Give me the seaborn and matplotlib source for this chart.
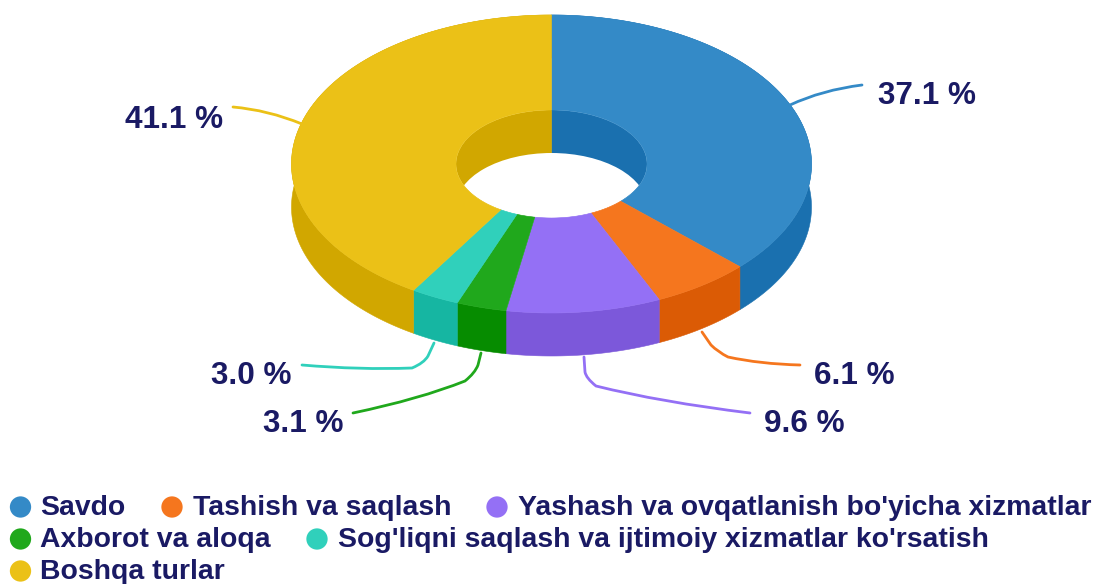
import numpy as np
import pandas as pd
import matplotlib
matplotlib.use('Agg')
import matplotlib.pyplot as plt
from matplotlib.patches import Ellipse, PathPatch
from matplotlib.path import Path
import seaborn as sns

# Data
categories = ['Savdo', 'Tashish va saqlash', "Yashash va ovqatlanish bo'yicha xizmatlar",
              'Axborot va aloqa', "Sog'liqni saqlash va ijtimoiy xizmatlar ko'rsatish", 'Boshqa turlar']
values = [37.1, 6.1, 9.6, 3.1, 3.0, 41.1]
top_colors = ['#348ac7', '#f5761e', '#9470f5', '#20a81c', '#30d0bb', '#ebc117']
side_colors = ['#1a70af', '#db5b05', '#7c58da', '#068c00', '#16b6a2', '#d1a700']

# Layout in pixels
cx, cy = 551.5, 164
rx, ry = 260, 149
hole_rx, hole_ry = 95.5, 54
depth = 43
label_pos = [(878, 96), (814, 376), (764, 424), (263, 424), (211, 376), (125, 120)]
leaders = [[(790, 105), (822, 90), (862, 85)],
           [(702, 332), (711, 345), (718, 352), (728, 357), (760, 364), (800, 365)],
           [(584, 357), (585, 372), (586, 378), (596, 386), (660, 402), (750, 413)],
           [(481, 353), (478, 365), (475, 373), (465, 381), (420, 399), (353, 413)],
           [(434, 343), (428, 356), (424, 363), (412, 368), (360, 370), (302, 365)],
           [(302, 124), (268, 110), (233, 107)]]
legend_dots = [(20.5, 507), (172, 507), (497, 507), (20.5, 539), (317, 539), (20.5, 571)]
legend_text = [(40, 508), (193, 508), (518, 508), (40, 540), (338, 540), (40, 572)]
text_color = '#1a1a64'

sns.set_theme(style='white')
plt.rcParams['font.family'] = ['Liberation Sans', 'DejaVu Sans']
palette = sns.color_palette(top_colors)

fig = plt.figure(figsize=(10.96, 5.84), dpi=100)
ax = fig.add_axes([0, 0, 1, 1])
ax.set_xlim(0, 1096)
ax.set_ylim(584, 0)
ax.axis('off')


def arc(a0, a1, a, b, dy=0):
    # angles clockwise from the top
    t = np.radians(np.linspace(a0, a1, 200))
    return cx + a * np.sin(t), cy - b * np.cos(t) + dy


edges = np.cumsum([0] + values) / sum(values) * 360

# outer walls
for i in range(len(values)):
    x1, y1 = arc(edges[i], edges[i + 1], rx, ry)
    x2, y2 = arc(edges[i], edges[i + 1], rx, ry, depth)
    ax.fill(np.r_[x1, x2[::-1]], np.r_[y1, y2[::-1]], color=side_colors[i], lw=0.4, zorder=1)

# inner wall seen through the hole
hole = Ellipse((cx, cy), 2 * hole_rx, 2 * hole_ry, fc='none', ec='none', transform=ax.transData)
ax.add_patch(hole)
for i in range(len(values)):
    x1, y1 = arc(edges[i], edges[i + 1], hole_rx, hole_ry)
    w = ax.fill(np.r_[cx, x1], np.r_[cy, y1], color=side_colors[i], lw=0.4, zorder=2)[0]
    w.set_clip_path(hole)
see_through = Ellipse((cx, cy + depth), 2 * hole_rx, 2 * hole_ry, fc='white', ec='none', zorder=3)
ax.add_patch(see_through)
see_through.set_clip_path(hole)

# top face
for i in range(len(values)):
    x1, y1 = arc(edges[i], edges[i + 1], rx, ry)
    x2, y2 = arc(edges[i], edges[i + 1], hole_rx, hole_ry)
    ax.fill(np.r_[x1, x2[::-1]], np.r_[y1, y2[::-1]], color=palette[i], lw=0.4, zorder=4)

# leader lines and labels
for i, pts in enumerate(leaders):
    if len(pts) == 3:
        codes = [Path.MOVETO, Path.CURVE3, Path.CURVE3]
    else:
        codes = [Path.MOVETO, Path.LINETO, Path.CURVE3, Path.CURVE3, Path.CURVE3, Path.CURVE3]
    ax.add_patch(PathPatch(Path(pts, codes), fc='none', ec=top_colors[i], lw=2, capstyle='round', zorder=5))
    ax.text(label_pos[i][0], label_pos[i][1], f'{values[i]} %', fontsize=22.7, fontweight='bold',
            color=text_color, va='center', ha='left', zorder=6)

# legend
legend_df = pd.DataFrame({'x': [p[0] for p in legend_dots], 'y': [p[1] for p in legend_dots], 'name': categories})
sns.scatterplot(data=legend_df, x='x', y='y', hue='name', palette=top_colors, s=235, linewidth=0,
                legend=False, ax=ax, clip_on=False, zorder=6)
ax.set_xlim(0, 1096)
ax.set_ylim(584, 0)
ax.axis('off')
for i, name in enumerate(categories):
    ax.text(legend_text[i][0], legend_text[i][1], name, fontsize=20.4, fontweight='bold',
            color=text_color, va='center', ha='left', zorder=6)

plt.savefig('out.png', dpi=100)
